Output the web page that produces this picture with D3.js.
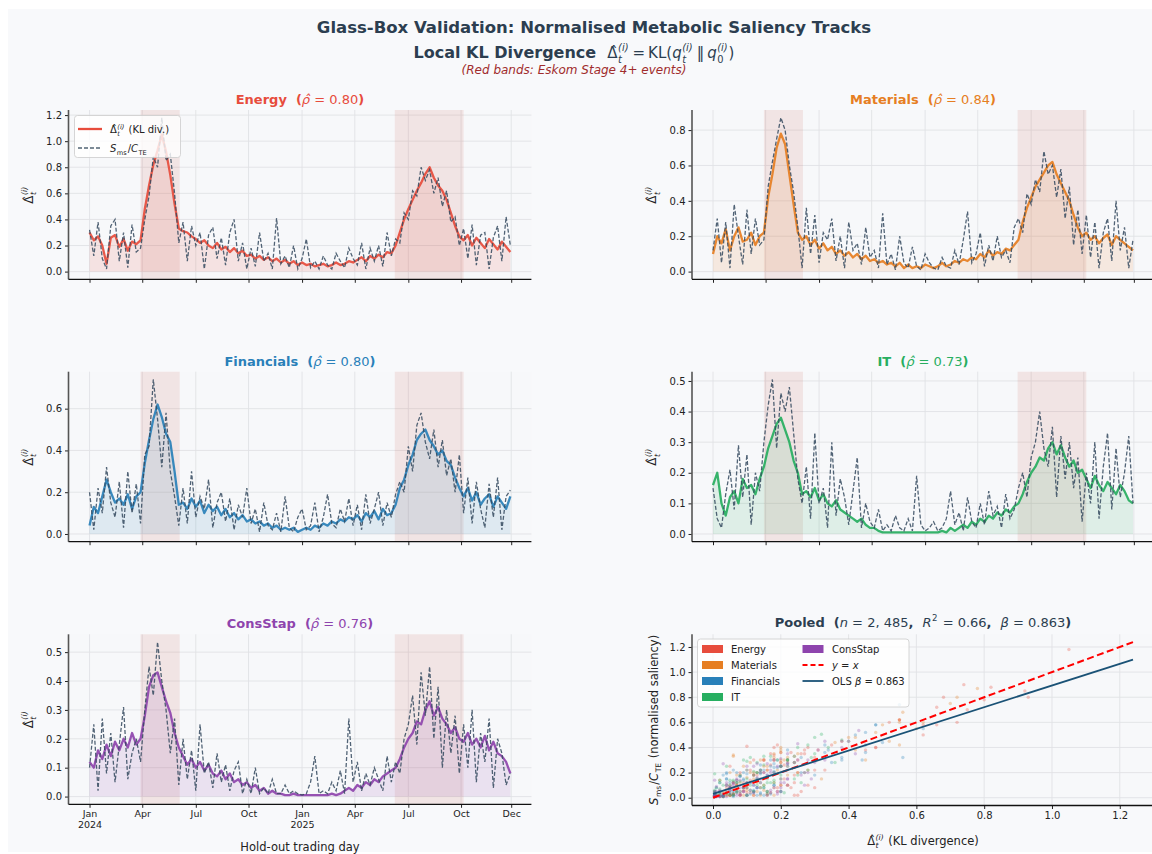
<!DOCTYPE html>
<html><head><meta charset="utf-8">
<script src="https://cdn.jsdelivr.net/npm/d3@7"></script>
<style>body{margin:0;background:#fff;} svg{display:block;font-family:"DejaVu Sans",sans-serif;} text{white-space:pre;}</style>
</head><body><svg id="c" width="1152" height="854"></svg>
<script>
// ---------------- DATA ----------------
const sectors = ["Energy","Materials","Financials","IT","ConsStap"];
const sectorColors = ["#e74c3c","#e67e22","#2980b9","#27ae60","#8e44ad"];
const rhoValues = ["0.80","0.84","0.80","0.73","0.76"];
// sample positions (trading-day index, every 5th hold-out day)
const tradingDays = d3.range(100).map(i => i * 5);
const xTickDays = [0,62,125,187,250,312,375,437,496];
const xTickLabels = [["Jan","2024"],["Apr"],["Jul"],["Oct"],["Jan","2025"],["Apr"],["Jul"],["Oct"],["Dec"]];
const eskomBands = [[60,106],[359,440]];

const klEnergy = [.30,.24,.27,.20,.06,.26,.28,.19,.25,.16,.23,.21,
 .24,.48,.66,.82,.93,1.05,.92,.74,.52,.33,
 .31,.30,.27,.25,.22,.24,.20,.18,.22,.17,.19,.15,.18,.14,.16,.12,
 .13,.10,.12,.09,.11,.08,.10,.07,.09,.06,.08,.05,.07,.05,.06,.04,.05,.06,.04,.05,.07,.05,.06,.08,.07,
 .09,.11,.08,.12,.10,.13,.11,.15,.14,
 .20,.30,.40,.48,.55,.62,.68,.75,.80,.72,.66,.62,.55,.45,.35,.27,
 .24,.28,.20,.26,.22,.18,.25,.21,.17,.23,.19,.15];
const salEnergy = [.32,.12,.38,.10,.02,.35,.40,.08,.30,.03,.36,.15,
 .18,.40,.58,.88,.80,1.18,.85,.90,.60,.22,
 .38,.08,.35,.20,.30,.02,.28,.34,.10,.26,.05,.30,.40,.08,.22,.02,
 .18,.04,.30,.08,.14,.02,.41,.06,.12,.03,.20,.02,.10,.25,.03,.08,.02,.12,.05,.02,.14,.08,.03,.18,.10,
 .05,.22,.02,.18,.08,.20,.04,.30,.12,
 .25,.22,.45,.40,.62,.58,.80,.70,.78,.60,.72,.50,.62,.38,.42,.20,
 .33,.10,.36,.05,.28,.30,.02,.26,.35,.08,.42,.20];

const klMaterials = [.10,.20,.16,.24,.12,.20,.25,.17,.18,.22,.15,.20,
 .22,.42,.55,.70,.78,.72,.55,.38,.22,.18,
 .20,.15,.18,.13,.16,.12,.14,.10,.12,.09,.11,.08,.10,.07,.09,.06,
 .07,.05,.06,.04,.05,.03,.05,.02,.04,.02,.03,.02,.04,.03,.02,.03,.05,.03,.04,.06,.05,.07,.06,.08,.07,
 .10,.08,.12,.09,.11,.10,.13,.12,.15,
 .18,.28,.36,.42,.48,.52,.56,.60,.62,.55,.50,.45,.40,.32,.25,.20,
 .22,.18,.20,.16,.19,.21,.15,.20,.18,.16,.14,.12];
const salMaterials = [.12,.30,.05,.28,.02,.38,.20,.04,.35,.10,.30,.15,
 .18,.48,.62,.75,.87,.80,.60,.45,.25,.02,
 .36,.10,.32,.05,.22,.18,.30,.06,.20,.02,.28,.12,.16,.04,.25,.08,
 .12,.02,.33,.04,.10,.01,.20,.05,.02,.14,.03,.01,.10,.05,.02,.01,.08,.03,.02,.12,.04,.18,.34,.05,.10,
 .22,.03,.15,.06,.20,.08,.12,.05,.25,
 .30,.22,.44,.38,.52,.45,.68,.55,.60,.42,.58,.30,.48,.15,.35,.10,
 .32,.08,.28,.02,.22,.30,.06,.40,.12,.25,.02,.18];

const klFinancials = [.04,.13,.10,.18,.26,.20,.15,.17,.14,.19,.12,.18,
 .20,.34,.45,.55,.62,.56,.48,.44,.30,.14,
 .15,.12,.17,.13,.16,.10,.14,.11,.13,.09,.12,.08,.10,.07,.09,.06,
 .07,.05,.06,.04,.05,.03,.04,.02,.03,.02,.03,.01,.02,.03,.02,.04,.03,.05,.04,.06,.05,.07,.06,.08,.07,
 .09,.06,.10,.08,.11,.07,.12,.09,.10,
 .14,.22,.26,.33,.38,.45,.48,.50,.45,.42,.38,.40,.35,.33,.27,.22,
 .18,.22,.16,.20,.14,.17,.19,.13,.18,.15,.12,.18];
const salFinancials = [.20,.02,.22,.10,.32,.15,.08,.25,.03,.30,.10,.24,
 .05,.38,.42,.74,.55,.32,.58,.30,.18,.04,
 .22,.05,.30,.08,.18,.12,.26,.03,.15,.20,.06,.17,.02,.14,.08,.22,
 .05,.12,.01,.15,.04,.02,.10,.01,.18,.03,.01,.08,.12,.02,.04,.15,.01,.08,.19,.05,.03,.12,.06,.17,.04,
 .14,.02,.19,.05,.12,.20,.04,.15,.08,
 .19,.25,.20,.42,.30,.52,.58,.44,.36,.50,.32,.45,.28,.36,.20,.38,
 .10,.27,.05,.25,.12,.03,.24,.08,.27,.02,.18,.21];

const klIT = [.16,.20,.10,.06,.12,.14,.10,.18,.15,.16,.13,.18,
 .22,.28,.32,.36,.38,.34,.30,.24,.20,.13,
 .14,.12,.15,.11,.13,.10,.09,.11,.08,.07,.06,.05,.04,.05,.03,.02,
 .02,.01,.005,.005,.005,.005,.005,.005,.005,.005,.005,.005,.005,.005,.005,.005,.01,.005,.02,.01,.02,.03,.02,.04,.03,
 .05,.04,.06,.05,.07,.06,.08,.07,.09,
 .10,.13,.17,.20,.22,.25,.24,.28,.30,.26,.29,.25,.22,.24,.20,.21,
 .18,.15,.19,.16,.14,.17,.15,.13,.16,.14,.11,.10];
const salIT = [.15,.05,.02,.13,.21,.08,.29,.12,.26,.03,.20,.14,
 .30,.42,.505,.28,.46,.40,.48,.33,.18,.10,
 .22,.05,.33,.10,.15,.02,.30,.06,.18,.12,.03,.14,.25,.02,.10,.04,
 .02,.08,.01,.03,.01,.06,.02,.01,.05,.01,.19,.03,.01,.02,.04,.01,.02,.05,.14,.03,.07,.01,.12,.04,.02,
 .10,.03,.14,.06,.09,.02,.13,.05,.08,
 .15,.20,.12,.25,.30,.40,.28,.22,.35,.12,.32,.18,.30,.15,.25,.04,
 .20,.10,.30,.05,.22,.33,.08,.28,.12,.20,.32,.10];

const klConsStap = [.12,.10,.16,.13,.18,.14,.19,.16,.20,.17,.22,.18,
 .20,.28,.38,.42,.43,.38,.33,.29,.22,.17,
 .14,.11,.13,.10,.12,.09,.11,.08,.07,.09,.06,.08,.05,.06,.04,.05,
 .03,.04,.02,.03,.01,.02,.01,.01,.005,.005,.01,.005,.005,.005,.005,.005,.005,.005,.005,.01,.005,.01,.02,.03,.02,
 .04,.03,.05,.04,.06,.05,.07,.08,.09,
 .10,.13,.17,.20,.22,.26,.25,.30,.33,.28,.31,.27,.25,.22,.24,.20,
 .19,.22,.18,.20,.17,.21,.16,.19,.15,.14,.12,.08];
const salConsStap = [.10,.25,.02,.27,.08,.22,.05,.18,.31,.06,.15,.20,
 .12,.30,.45,.35,.535,.40,.30,.15,.27,.04,
 .20,.06,.16,.02,.25,.08,.12,.03,.15,.05,.11,.02,.09,.12,.01,.06,
 .01,.10,.01,.03,.01,.06,.01,.01,.04,.01,.02,.01,.005,.01,.05,.14,.01,.02,.01,.05,.02,.09,.01,.27,.05,
 .12,.02,.08,.04,.10,.06,.02,.14,.05,
 .12,.08,.20,.25,.35,.18,.43,.28,.45,.20,.38,.10,.30,.15,.28,.08,
 .25,.10,.30,.05,.22,.12,.27,.03,.20,.15,.04,.08];

const klSeries = [klEnergy, klMaterials, klFinancials, klIT, klConsStap];
const salSeries = [salEnergy, salMaterials, salFinancials, salIT, salConsStap];
const olsBeta = 0.863, olsIntercept = 0.03;

// ---------------- LAYOUT ----------------
const colX = [[68.5,531.4],[692,1154]];
const rowY = [[110,279.3],[371.7,541.7],[634.3,804.3]];
const panelPos = [[0,0],[0,1],[1,0],[1,1],[2,0]];
const INK = "#2c3e50";
const SAL_COLOR = "#34495e";

const svg = d3.select("#c");
svg.append("rect").attr("x",8).attr("y",9).attr("width",1144).attr("height",843).attr("fill","#f8f9fb");

function rich(parent, x, y, items, o) {
  const fill = o.fill || "#222";
  const g = parent.append("g").attr("transform", `translate(${x},${y})` + (o.rot ? ` rotate(${o.rot})` : ""));
  const inner = g.append("g");
  let cx = 0;
  const mk = (txt, xx, yy, size, weight, style) => {
    const t = inner.append("text").attr("x", xx).attr("y", yy).attr("font-size", size)
      .attr("font-weight", weight || "normal").attr("font-style", style || "normal")
      .attr("xml:space","preserve").attr("fill", fill).text(txt);
    return t.node().getComputedTextLength();
  };
  items.forEach(it => {
    const fs = it.fs || o.fs;
    cx += mk(it.t, cx, 0, fs, it.w, it.st);
    let sw = 0;
    if (it.sub) sw = Math.max(sw, mk(it.sub, cx + 0.5, fs*0.3, fs*0.66, "normal", it.subSt || "italic"));
    if (it.sup) sw = Math.max(sw, mk(it.sup, cx + 0.5, -fs*0.45, fs*0.66, "normal", it.supSt || "italic"));
    if (sw) cx += sw + 1.5;
  });
  const off = o.anchor === "middle" ? -cx/2 : o.anchor === "end" ? -cx : 0;
  inner.attr("transform", `translate(${off},0)`);
  return cx;
}
const DELTA = {t:"\u0394\u0302", sub:"t", sup:"(i)"};

function drawFrame(f, xs, ys, xt, yt) {
  const g = svg.append("g");
  g.append("rect").attr("x",f.x0).attr("y",f.y0).attr("width",f.x1-f.x0).attr("height",f.y1-f.y0).attr("fill","#f7f8fa");
  g.selectAll("line.gy").data(yt).join("line").attr("class","gy")
    .attr("x1",f.x0).attr("x2",f.x1).attr("y1",d=>ys(d)).attr("y2",d=>ys(d))
    .attr("stroke","#e1e2e5").attr("stroke-width",0.9);
  g.selectAll("line.gx").data(xt).join("line").attr("class","gx")
    .attr("y1",f.y0).attr("y2",f.y1).attr("x1",d=>xs(d)).attr("x2",d=>xs(d))
    .attr("stroke","#e1e2e5").attr("stroke-width",0.9);
  return g;
}
function drawAxes(f, xs, ys, xt, yt, xLabelFn) {
  const g = svg.append("g");
  const ya = g.append("g").attr("transform",`translate(${f.x0},0)`)
    .call(d3.axisLeft(ys).tickValues(yt).tickSize(3.5).tickPadding(3).tickFormat(d3.format(".1f")));
  const xa = g.append("g").attr("transform",`translate(0,${f.y1})`)
    .call(d3.axisBottom(xs).tickValues(xt).tickSize(3.5).tickPadding(3).tickFormat(xLabelFn || (()=> "")));
  [ya, xa].forEach(a => {
    a.select(".domain").remove();
    a.attr("font-family","DejaVu Sans").attr("font-size",10).attr("color","#222");
    a.selectAll("line").attr("stroke-width",1);
  });
  g.append("line").attr("x1",f.x0).attr("x2",f.x0).attr("y1",f.y0).attr("y2",f.y1).attr("stroke","#555").attr("stroke-width",1.6);
  g.append("line").attr("x1",f.x0).attr("x2",f.x1).attr("y1",f.y1).attr("y2",f.y1).attr("stroke","#111").attr("stroke-width",1.3);
  return {g, xa};
}

const xs0 = tradingDays[0], xs1 = tradingDays[tradingDays.length-1];
const span = xs1 - xs0;

sectors.forEach((name, si) => {
  const [r, c] = panelPos[si];
  const f = {x0: colX[c][0], x1: colX[c][1], y0: rowY[r][0], y1: rowY[r][1]};
  const K = klSeries[si], S = salSeries[si], col = sectorColors[si];
  const mx = d3.max(K.concat(S));
  const xs = d3.scaleLinear().domain([xs0 - 0.05*span, xs1 + 0.05*span]).range([f.x0, f.x1]);
  const ys = d3.scaleLinear().domain([-0.05*mx, 1.05*mx]).range([f.y1, f.y0]);
  const yt = ys.ticks(5);
  drawFrame(f, xs, ys, xTickDays, yt);
  const g = svg.append("g");
  g.selectAll("rect.band").data(eskomBands).join("rect").attr("class","band")
    .attr("x", d=>xs(d[0])).attr("width", d=>xs(d[1])-xs(d[0]))
    .attr("y", f.y0).attr("height", f.y1-f.y0).attr("fill","#c0392b").attr("opacity",0.1);
  const area = d3.area().x((d,i)=>xs(tradingDays[i])).y0(ys(0)).y1(d=>ys(d));
  const line = d3.line().x((d,i)=>xs(tradingDays[i])).y(d=>ys(d));
  g.append("path").attr("d", area(K)).attr("fill", col).attr("opacity", 0.12);
  g.append("path").attr("d", line(K)).attr("fill","none").attr("stroke", col).attr("stroke-width",2.3)
    .attr("stroke-linejoin","round").attr("opacity",0.92);
  g.append("path").attr("d", line(S)).attr("fill","none").attr("stroke", SAL_COLOR).attr("stroke-width",1.3)
    .attr("stroke-dasharray","4,2").attr("opacity",0.85);

  const isBottom = (r === 2);
  const ax = drawAxes(f, xs, ys, xTickDays, yt, isBottom ? (()=> "") : null);
  if (isBottom) {
    ax.xa.selectAll(".tick").each(function(d, i) {
      const t = d3.select(this).select("text").attr("font-size", 9.5).attr("dy", null).attr("y", 13);
      xTickLabels[i].forEach((s, k) => t.append("tspan").attr("x", 0).attr("dy", k === 0 ? "0.0em" : "1.15em").text(s));
    });
    rich(svg, (f.x0+f.x1)/2, 851, [{t:"Hold-out trading day"}], {fs:11.5, anchor:"middle"});
  }
  // y label
  rich(svg, f.x0 - 36, (f.y0+f.y1)/2, [DELTA], {fs:12, anchor:"middle", rot:-90});
  // panel title
  rich(svg, (f.x0+f.x1)/2, f.y0 - 6, [
    {t: name + "  (", w:"bold"}, {t:"\u03C1\u0302", st:"italic"}, {t:" = " + rhoValues[si]}, {t:")", w:"bold"}
  ], {fs:13, anchor:"middle", fill: col});

  if (si === 0) {
    const lg = svg.append("g");
    lg.append("rect").attr("x",74.5).attr("y",115.5).attr("width",106).attr("height",42).attr("rx",3)
      .attr("fill","#fff").attr("fill-opacity",0.8).attr("stroke","#cccccc").attr("stroke-width",0.8);
    lg.append("line").attr("x1",78).attr("x2",102).attr("y1",129).attr("y2",129).attr("stroke",col).attr("stroke-width",2.3);
    lg.append("line").attr("x1",78).attr("x2",102).attr("y1",148).attr("y2",148).attr("stroke",SAL_COLOR)
      .attr("stroke-width",1.3).attr("stroke-dasharray","4,2").attr("opacity",0.85);
    rich(lg, 110, 133, [DELTA, {t:" (KL div.)"}], {fs:10});
    rich(lg, 110, 152, [{t:"S", st:"italic", sub:"ms", subSt:"normal"}, {t:"/"}, {t:"C", st:"italic", sub:"TE", subSt:"normal"}], {fs:10});
  }
});

// ---------------- POOLED ----------------
(function(){
  const f = {x0: colX[1][0], x1: colX[1][1], y0: rowY[2][0], y1: 805.5};
  const all = klSeries.flat().concat(salSeries.flat());
  const lineMax = 1.05 * d3.max(all);
  const dom = [-0.05*lineMax, 1.05*lineMax];
  const xs = d3.scaleLinear().domain(dom).range([f.x0, f.x1]);
  const ys = d3.scaleLinear().domain(dom).range([f.y1, f.y0]);
  const xt = xs.ticks(6), yt = ys.ticks(6);
  drawFrame(f, xs, ys, xt, yt);
  const g = svg.append("g");
  sectors.forEach((name, si) => {
    const pts = klSeries[si].map((k, i) => [k, salSeries[si][i]]);
    g.selectAll(null).data(pts).join("circle")
      .attr("cx", d=>xs(d[0])).attr("cy", d=>ys(d[1])).attr("r", 1.7)
      .attr("fill", sectorColors[si]).attr("opacity", 0.3);
  });
  g.append("line").attr("x1",xs(0)).attr("y1",ys(0)).attr("x2",xs(lineMax)).attr("y2",ys(lineMax))
    .attr("stroke","#ff0000").attr("stroke-width",2).attr("stroke-dasharray","7,3.5");
  g.append("line").attr("x1",xs(0)).attr("y1",ys(olsIntercept)).attr("x2",xs(lineMax)).attr("y2",ys(olsIntercept + olsBeta*lineMax))
    .attr("stroke","#1a5276").attr("stroke-width",1.8);
  drawAxes(f, xs, ys, xt, yt, d3.format(".1f"));

  rich(svg, (f.x0+f.x1)/2, 627, [
    {t:"Pooled  (", w:"bold"}, {t:"n", st:"italic"}, {t:" = 2, 485", }, {t:",  ", w:"bold"},
    {t:"R", st:"italic", sup:"2", supSt:"normal"}, {t:" = 0.66"}, {t:",  ", w:"bold"},
    {t:"\u03B2", st:"italic"}, {t:" = 0.863"}, {t:")", w:"bold"}
  ], {fs:13, anchor:"middle", fill: INK});
  rich(svg, (f.x0+f.x1)/2, 845, [DELTA, {t:" (KL divergence)"}], {fs:11.5, anchor:"middle"});
  rich(svg, 658, (f.y0+f.y1)/2, [{t:"S", st:"italic", sub:"ms", subSt:"normal"}, {t:"/"}, {t:"C", st:"italic", sub:"TE", subSt:"normal"}, {t:" (normalised saliency)"}], {fs:11.5, anchor:"middle", rot:-90});

  // legend
  const lg = svg.append("g");
  lg.append("rect").attr("x",697.5).attr("y",639).attr("width",211.5).attr("height",68).attr("rx",3)
    .attr("fill","#fff").attr("fill-opacity",0.8).attr("stroke","#cccccc").attr("stroke-width",0.8);
  const rowsY = [649, 665, 681, 697];
  const entries = sectors.map((s, i) => ({kind:"patch", color: sectorColors[i], items:[{t:s}]}));
  entries.push({kind:"dash", color:"#ff0000", items:[{t:"y", st:"italic"}, {t:" = "}, {t:"x", st:"italic"}]});
  entries.push({kind:"line", color:"#1a5276", items:[{t:"OLS "}, {t:"\u03B2", st:"italic"}, {t:" = " + olsBeta}]});
  entries.forEach((e, i) => {
    const colIdx = i < 4 ? 0 : 1;
    const ry = rowsY[i < 4 ? i : i - 4];
    const lx = colIdx === 0 ? 702 : 802.5, tx = colIdx === 0 ? 731 : 832;
    if (e.kind === "patch") lg.append("rect").attr("x", lx).attr("y", ry-4).attr("width", 21).attr("height", 8).attr("fill", e.color);
    else lg.append("line").attr("x1", lx).attr("x2", lx+21).attr("y1", ry).attr("y2", ry).attr("stroke", e.color)
      .attr("stroke-width", e.kind === "dash" ? 2 : 1.8).attr("stroke-dasharray", e.kind === "dash" ? "5,3" : null);
    rich(lg, tx, ry + 3.6, e.items, {fs:10});
  });
})();

// ---------------- TITLES ----------------
rich(svg, 594, 33, [{t:"Glass-Box Validation: Normalised Metabolic Saliency Tracks", w:"bold"}], {fs:16.5, anchor:"middle", fill: INK});
const M = 15;
rich(svg, 574, 58, [
  {t:"Local KL Divergence  ", w:"bold", fs:16}, {t:"\u0394\u0302", sub:"t", sup:"(i)", fs:M}, {t:"\u2009=\u2009KL(", fs:M},
  {t:"q", st:"italic", sub:"t", sup:"(i)", fs:M},
  {t:"\u2009\u2016\u2009", fs:M}, {t:"q", st:"italic", sub:"0", subSt:"normal", sup:"(i)", fs:M}, {t:")", fs:M}
], {fs:16, anchor:"middle", fill: INK});
rich(svg, 574, 73.5, [{t:"(Red bands: Eskom Stage 4+ events)", st:"italic"}], {fs:12, anchor:"middle", fill:"#a02c2c"});
</script></body></html>
